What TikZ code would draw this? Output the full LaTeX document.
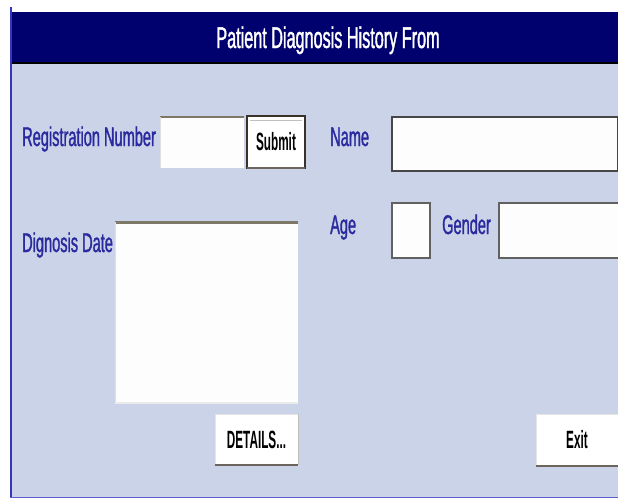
\documentclass[tikz,border=0pt]{standalone}
\usepackage{fontspec}
\newfontfamily\uifont[FakeStretch=0.54,FakeBold=1.2]{Liberation Sans}
\newfontfamily\titlefont[FakeStretch=0.54,FakeBold=1.2]{Liberation Sans}
\newfontfamily\btnfont[FakeStretch=0.47]{Liberation Sans}
\definecolor{navybar}{HTML}{00006E}
\definecolor{panelbg}{HTML}{CBD3E8}
\definecolor{labelblue}{HTML}{2A2A9E}
\definecolor{edgeblue}{HTML}{3535BE}
\definecolor{sunken}{HTML}{7E7868}
\definecolor{shadowdk}{HTML}{3A3228}
\definecolor{fieldwhite}{HTML}{FDFDFD}
\tikzset{
  lbl/.style={anchor=base west, inner sep=0pt, text=labelblue,
    font=\uifont\fontsize{27}{27}\selectfont},
  field/.style={anchor=north west, inner sep=0pt, outer sep=0pt, fill=fieldwhite},
  framed/.style={field, draw=black!72, line width=1.6pt},
  btn/.style={anchor=north west, inner sep=0pt, outer sep=0pt, fill=white,
    draw=black!10, line width=0.8pt,
    font=\btnfont\bfseries\fontsize{25}{25}\selectfont, text=black},
  topedge/.style={draw=sunken, line width=2.4pt},
  lightedge/.style={draw=black!12, line width=1pt},
  shadow/.style={draw=shadowdk!75, line width=2.6pt},
}
\begin{document}
\begin{tikzpicture}[x=1pt, y=-1pt]
\useasboundingbox (0,0) rectangle (618,501);
% form body and title bar
\fill[panelbg] (10,63) rectangle (618,497);
\fill[navybar] (10,12) rectangle (618,63);
\draw[black, line width=1.6pt] (10,63) -- (618,63);
\draw[edgeblue, line width=2pt] (11,7) -- (11,497);
\draw[edgeblue!80, line width=1.4pt] (10,497.5) -- (618,497.5);
\node[anchor=base, inner sep=0pt, text=white,
  font=\titlefont\fontsize{30}{30}\selectfont] (title) at (328,48) {Patient Diagnosis History From};

% registration number row
\node[lbl] (reglbl) at (22,146) {Registration Number};
\node[field, minimum width=84pt, minimum height=51pt] (regbox) at (160,117) {};
\draw[topedge] (regbox.north west) -- (regbox.north east);
\draw[lightedge] (regbox.north west) -- (regbox.south west);
\node[btn, minimum width=58pt, minimum height=52pt, draw=shadowdk, line width=1.6pt] (submit) at (247,116) {Submit};
\draw[shadow] (submit.south west) -- (submit.south east);
\draw[black!25, line width=0.8pt] ([shift={(3,4)}]submit.north west) -- ([shift={(-3,4)}]submit.north east);

% name, age and gender
\node[lbl] (namelbl) at (330,146) {Name};
\node[framed, minimum width=226pt, minimum height=54pt] (namebox) at (392,117) {};
\node[lbl] (agelbl) at (330,234) {Age};
\node[framed, draw=black!62, line width=1.3pt, minimum width=38pt, minimum height=55pt] (agebox) at (392,203) {};
\node[lbl] (genderlbl) at (442,234) {Gender};
\node[framed, draw=black!62, line width=1.3pt, minimum width=120pt, minimum height=55pt] (genderbox) at (499,203) {};

% diagnosis date list
\node[lbl] (datelbl) at (22,252) {Dignosis Date};
\node[field, minimum width=183pt, minimum height=181pt] (datelist) at (115,222) {};
\draw[topedge, line width=3pt] (datelist.north west) -- (datelist.north east);
\draw[lightedge] (datelist.north west) -- (datelist.south west);
\draw[draw=black!8, line width=1.5pt] (datelist.south west) -- (datelist.south east);

% command buttons
\node[btn, minimum width=83pt, minimum height=51pt] (details) at (215,414) {DETAILS...};
\draw[shadow] (details.south west) -- (details.south east);
\draw[black!25, line width=1pt] (details.north east) -- (details.south east);
\node[btn, minimum width=82pt, minimum height=52pt] (exit) at (536,414) {Exit};
\draw[shadow] (exit.south west) -- (exit.south east);
\end{tikzpicture}
\end{document}
